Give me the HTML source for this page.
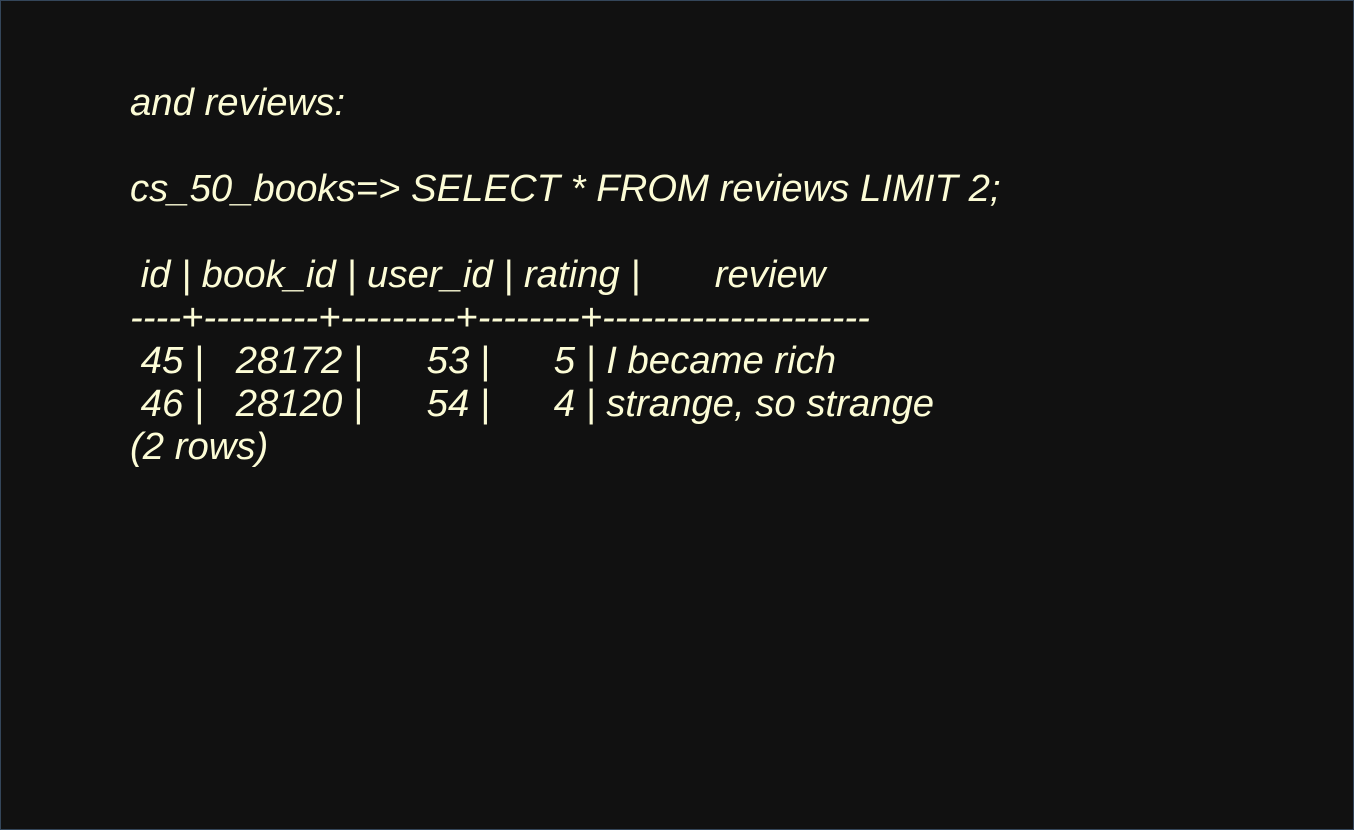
<!DOCTYPE html>
<html><head><meta charset="utf-8"><style>
html,body{margin:0;padding:0;}
body{width:1354px;height:830px;background:#111111;overflow:hidden;}
.frame{position:absolute;left:0;top:0;width:1352px;height:828px;border:1px solid #34465a;background:#111111;}
pre{position:absolute;left:130px;top:81px;margin:0;font-family:"Liberation Sans",sans-serif;font-style:italic;font-size:38.3px;line-height:43px;color:#fcfcd6;white-space:pre;}
</style></head><body><div class="frame"></div>
<pre>and reviews:

cs_50_books=&gt; SELECT * FROM reviews LIMIT 2;

 id | book_id | user_id | rating |       review
----+---------+---------+--------+---------------------
 45 |   28172 |      53 |      5 | I became rich
 46 |   28120 |      54 |      4 | strange, so strange
(2 rows)</pre>
</body></html>
